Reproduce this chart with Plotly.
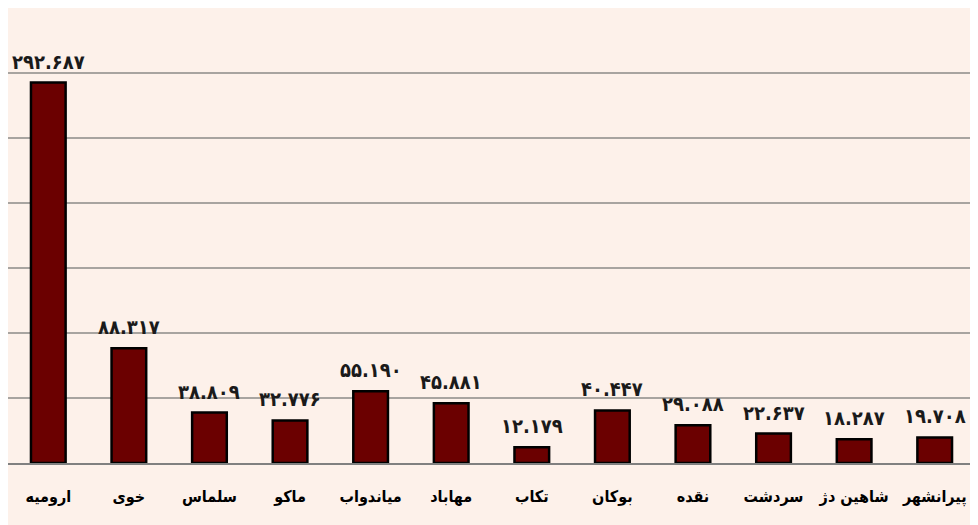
import plotly.graph_objects as go

cities = ["ارومیه", "خوی", "سلماس", "ماکو", "میاندواب", "مهاباد", "تکاب", "بوکان", "نقده", "سردشت", "شاهین دژ", "پیرانشهر"]
population = [292687, 88317, 38809, 32776, 55190, 45881, 12179, 40447, 29088, 22637, 18287, 19708]

fa_digits = str.maketrans("0123456789", "۰۱۲۳۴۵۶۷۸۹")
labels = [f"{v:,}".replace(",", ".").translate(fa_digits) for v in population]

fig = go.Figure(go.Bar(
    x=cities, y=population,
    marker=dict(color="#6B0000", line=dict(color="#000000", width=2.5)),
    width=0.43,
))

for c, v, t in zip(cities, population, labels):
    fig.add_annotation(
        x=c, y=v, text=t, showarrow=False, yanchor="bottom", yshift=7,
        font=dict(family="DejaVu Sans Condensed, DejaVu Sans", size=20, color="#1a1a1a", weight="bold"),
    )

fig.update_layout(
    width=970, height=517,
    margin=dict(l=0, r=3, t=0, b=62, autoexpand=False),
    paper_bgcolor="#FDF1EA", plot_bgcolor="#FDF1EA",
    showlegend=False,
    font=dict(family="DejaVu Sans", color="#000000"),
)
fig.update_xaxes(
    type="category", showgrid=False, showline=True, linecolor="#808080", linewidth=2,
    ticks="", ticklabelstandoff=18, automargin=False, tickangle=0,
    tickfont=dict(family="DejaVu Sans Condensed, DejaVu Sans", size=16, color="#000000", weight="bold"),
    mirror=False,
)
fig.update_yaxes(
    range=[0, 350000], dtick=50000, showticklabels=False, automargin=False,
    showgrid=True, gridcolor="#A8A4A0", gridwidth=1.5,
    showline=True, linecolor="#A8A4A0", linewidth=1.5, zeroline=False,
    mirror=True,
)

fig.write_html("out.html")
